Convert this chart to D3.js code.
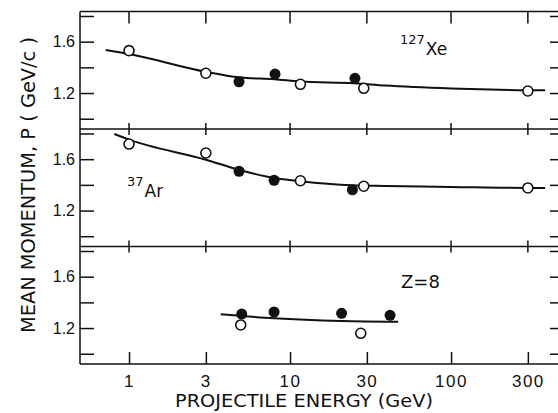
<!DOCTYPE html>
<html>
<head>
<meta charset="utf-8">
<script src="https://cdn.jsdelivr.net/npm/d3@7"></script>
<style>
  body { margin: 0; background: #fff; }
  svg { display: block; font-family: "DejaVu Sans", sans-serif; }
  .tick line, .frame { stroke: #111; stroke-width: 1.5; }
  .domain { display: none; }
</style>
</head>
<body>
<div class="container"></div>
<script>
// tick values
const energyTicks = [1, 3, 10, 30, 100, 300];
const momentumTicks = [1.0, 1.2, 1.4, 1.6, 1.8];
const momentumLabels = [1.2, 1.6];

// 127Xe
const xeOpenE = [1, 3, 11.6, 28.7, 300];
const xeOpenP = [1.53, 1.354, 1.268, 1.237, 1.216];
const xeFilledE = [4.82, 8.07, 25.3];
const xeFilledP = [1.288, 1.348, 1.315];
const xeFitE = [0.717, 1, 3, 4.8, 8, 11.6, 25, 39, 100, 300, 384];
const xeFitP = [1.535, 1.504, 1.366, 1.323, 1.307, 1.29, 1.276, 1.258, 1.235, 1.222, 1.221];

// 37Ar
const arOpenE = [1, 3, 11.6, 28.7, 300];
const arOpenP = [1.718, 1.648, 1.432, 1.389, 1.376];
const arFilledE = [4.82, 7.96, 24.4];
const arFilledP = [1.506, 1.436, 1.362];
const arFitE = [0.81, 1, 3, 4.8, 8, 11.6, 24.4, 39, 100, 300, 384];
const arFitP = [1.796, 1.752, 1.596, 1.518, 1.453, 1.428, 1.397, 1.392, 1.384, 1.376, 1.376];

// Z = 8
const oxOpenE = [4.94, 27.5];
const oxOpenP = [1.224, 1.159];
const oxFilledE = [5.01, 7.96, 20.9, 41.8];
const oxFilledP = [1.309, 1.325, 1.315, 1.299];
const oxFitE = [3.71, 7.96, 20.8, 46.9];
const oxFitP = [1.307, 1.276, 1.255, 1.249];

const panels = [
  { openE: xeOpenE, openP: xeOpenP, filledE: xeFilledE, filledP: xeFilledP, fitE: xeFitE, fitP: xeFitP },
  { openE: arOpenE, openP: arOpenP, filledE: arFilledE, filledP: arFilledP, fitE: arFitE, fitP: arFitP },
  { openE: oxOpenE, openP: oxOpenP, filledE: oxFilledE, filledP: oxFilledP, fitE: oxFitE, fitP: oxFitP },
];

const width = 558;
const height = 413;
const plotLeft = 80;
const plotRight = 560;
const plotTop = 11.5;
const plotBottom = 364;
const panelHeight = (plotBottom - plotTop) / 3;

const svg = d3.select(".container").append("svg")
  .attr("width", width)
  .attr("height", height);

const x = d3.scaleLog().domain([0.496, 475]).range([plotLeft, plotRight]);

const zip = (a, b) => a.map((v, i) => [v, b[i]]);

panels.forEach((panel, i) => {
  const y0 = plotTop + i * panelHeight;
  const y = d3.scaleLinear().domain([0.92, 1.835]).range([y0 + panelHeight, y0]);

  svg.append("g")
    .attr("transform", `translate(${plotLeft},0)`)
    .call(d3.axisLeft(y)
      .tickValues(momentumTicks)
      .tickSizeInner(-14)
      .tickSizeOuter(0)
      .tickPadding(5)
      .tickFormat((d) => (momentumLabels.includes(d) ? d3.format(".1f")(d) : "")))
    .call((g) => g.selectAll("text")
      .attr("fill", "#111")
      .style("font-size", "16px"));

  svg.append("g")
    .attr("transform", `translate(${plotRight},0)`)
    .call(d3.axisRight(y)
      .tickValues(momentumTicks)
      .tickSizeInner(-10)
      .tickSizeOuter(0)
      .tickFormat(""));

  const line = d3.line()
    .x((d) => x(d[0]))
    .y((d) => y(d[1]))
    .curve(d3.curveMonotoneX);

  svg.append("path")
    .datum(zip(panel.fitE, panel.fitP))
    .attr("d", line)
    .attr("fill", "none")
    .attr("stroke", "#111")
    .attr("stroke-width", 2);

  svg.append("g").selectAll("circle")
    .data(zip(panel.filledE, panel.filledP))
    .join("circle")
    .attr("cx", (d) => x(d[0]))
    .attr("cy", (d) => y(d[1]))
    .attr("r", 5.5)
    .attr("fill", "#111");

  svg.append("g").selectAll("circle")
    .data(zip(panel.openE, panel.openP))
    .join("circle")
    .attr("cx", (d) => x(d[0]))
    .attr("cy", (d) => y(d[1]))
    .attr("r", 5)
    .attr("fill", "#fff")
    .attr("stroke", "#111")
    .attr("stroke-width", 1.6);
});

// frame: left edge, top edge, separators, bottom edge
svg.append("line").attr("class", "frame")
  .attr("x1", plotLeft).attr("x2", plotLeft).attr("y1", plotTop).attr("y2", plotBottom);
[0, 1, 2, 3].forEach((k) => {
  const yy = plotTop + k * panelHeight;
  svg.append("line").attr("class", "frame")
    .attr("x1", plotLeft).attr("x2", plotRight).attr("y1", yy).attr("y2", yy);
});

// x ticks on top edge and on the separators
svg.append("g").selectAll("line")
  .data(energyTicks)
  .join("line")
  .attr("class", "frame")
  .attr("x1", (d) => x(d)).attr("x2", (d) => x(d))
  .attr("y1", plotTop).attr("y2", plotTop + 12);

[1, 2].forEach((k) => {
  const yy = plotTop + k * panelHeight;
  svg.append("g").selectAll("line")
    .data(energyTicks)
    .join("line")
    .attr("class", "frame")
    .attr("x1", (d) => x(d)).attr("x2", (d) => x(d))
    .attr("y1", yy - 6).attr("y2", yy + 6);
});

svg.append("g")
  .attr("transform", `translate(0,${plotBottom})`)
  .call(d3.axisBottom(x)
    .tickValues(energyTicks)
    .tickSizeInner(-12)
    .tickSizeOuter(0)
    .tickPadding(11)
    .tickFormat(d3.format("d")))
  .call((g) => g.selectAll("text")
    .attr("fill", "#111")
    .style("font-size", "17px")
    .style("letter-spacing", "1.5px"));

// panel labels, isotope mass as a raised tspan
function isotope(xPos, yPos, mass, symbol) {
  const t = svg.append("text")
    .attr("x", xPos)
    .attr("y", yPos)
    .attr("fill", "#111");
  t.append("tspan").attr("dy", -11).style("font-size", "13px").text(mass);
  t.append("tspan").attr("dy", 11).attr("dx", 1).style("font-size", "17px").text(symbol);
}
isotope(400, 55, "127", "Xe");
isotope(127, 197, "37", "Ar");

svg.append("text")
  .attr("x", 401)
  .attr("y", 288)
  .attr("fill", "#111")
  .style("font-size", "18px")
  .text("Z=8");

// axis titles
svg.append("text")
  .attr("x", 304)
  .attr("y", 407)
  .attr("text-anchor", "middle")
  .attr("textLength", 258)
  .attr("lengthAdjust", "spacingAndGlyphs")
  .attr("fill", "#111")
  .style("font-size", "18px")
  .text("PROJECTILE ENERGY (GeV)");

svg.append("text")
  .attr("transform", "translate(35,185) rotate(-90)")
  .attr("text-anchor", "middle")
  .attr("textLength", 296)
  .attr("lengthAdjust", "spacingAndGlyphs")
  .attr("fill", "#111")
  .style("font-size", "19px")
  .text("MEAN MOMENTUM, P ( GeV/c )");
</script>
</body>
</html>
